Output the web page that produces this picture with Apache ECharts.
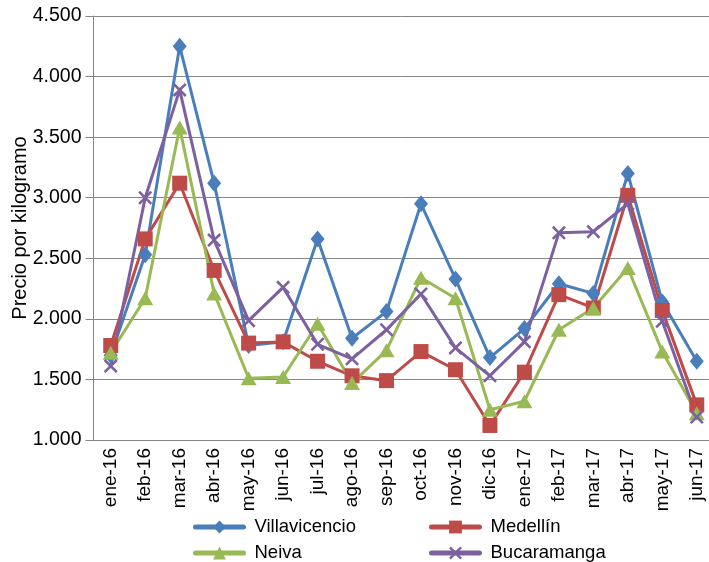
<!DOCTYPE html>
<html><head><meta charset="utf-8">
<script src="https://cdn.jsdelivr.net/npm/echarts@6/dist/echarts.min.js"></script>
<style>html,body{margin:0;padding:0;background:#fff}#c{width:709px;height:562px}</style>
</head><body><div id="c"></div>
<script>
const categories = ['ene-16','feb-16','mar-16','abr-16','may-16','jun-16','jul-16','ago-16','sep-16','oct-16','nov-16','dic-16','ene-17','feb-17','mar-17','abr-17','may-17','jun-17'];
const villavicencio = [1700,2530,4250,3120,1780,1810,2660,1840,2060,2950,2330,1680,1920,2290,2210,3200,2140,1650];
const medellin = [1780,2660,3120,2400,1800,1810,1650,1530,1490,1730,1580,1120,1560,2200,2090,3020,2070,1290];
const neiva = [1720,2170,3580,2210,1510,1520,1960,1470,1740,2340,2170,1250,1320,1910,2090,2420,1730,1220];
const bucaramanga = [1610,3000,3890,2650,1985,2260,1790,1670,1910,2205,1760,1530,1810,2710,2720,2950,1980,1190];
const yTicks = {min:1000, max:4500, interval:500};

const FONT = 'Liberation Sans';
const xPath = 'path://M0,1.3L1.3,0L5,3.7L8.7,0L10,1.3L6.3,5L10,8.7L8.7,10L5,6.3L1.3,10L0,8.7L3.7,5Z';
function fmt(v){ return String(v).replace(/\B(?=(\d{3})+(?!\d))/g,'.'); }
function mk(name, data, color, symbol, size){
  return {name, type:'line', data, symbol, symbolSize:size, showAllSymbol:true,
    lineStyle:{color, width:3}, itemStyle:{color}, animation:false};
}
function lg(name, left, top){
  return {left, top, padding:0, itemWidth:48, itemHeight:16, data:[name],
    lineStyle:{width:5, cap:'round'},
    textStyle:{fontFamily:FONT, fontSize:18.5, color:'#000', lineHeight:20, padding:[0,0,0,6]}};
}
const chart = echarts.init(document.getElementById('c'));
chart.setOption({
  animation:false,
  grid:{left:93.5, top:16, bottom:122, right:-5, containLabel:false, outerBoundsMode:'none'},
  legend:[
    lg('Villavicencio',193,517), lg('Neiva',193,543),
    lg('Medellín',429,517), lg('Bucaramanga',429,543)
  ],
  xAxis:{type:'category', data:categories, boundaryGap:true,
    axisLine:{lineStyle:{color:'#868686', width:1}},
    axisTick:{length:6, lineStyle:{color:'#868686'}, interval:0},
    axisLabel:{rotate:90, interval:0, fontFamily:FONT, fontSize:19, color:'#000', margin:8}},
  yAxis:{type:'value', min:yTicks.min, max:yTicks.max, interval:yTicks.interval,
    name:'Precio por kilogramo', nameLocation:'middle', nameGap:63, nameMoveOverlap:false,
    nameTextStyle:{fontFamily:FONT, fontSize:20, color:'#000'},
    axisLine:{show:true, lineStyle:{color:'#868686'}},
    axisTick:{show:true, length:8, lineStyle:{color:'#868686'}},
    splitLine:{lineStyle:{color:'#868686', width:1}},
    axisLabel:{formatter:fmt, fontFamily:FONT, fontSize:19.5, color:'#000', margin:12}},
  series:[
    mk('Villavicencio', villavicencio, '#4A7EBB', 'diamond', [14,17]),
    mk('Medellín', medellin, '#BE4B48', 'rect', 15),
    mk('Neiva', neiva, '#98B954', 'triangle', [16,14]),
    mk('Bucaramanga', bucaramanga, '#7D60A0', xPath, 14)
  ]
});
</script></body></html>
